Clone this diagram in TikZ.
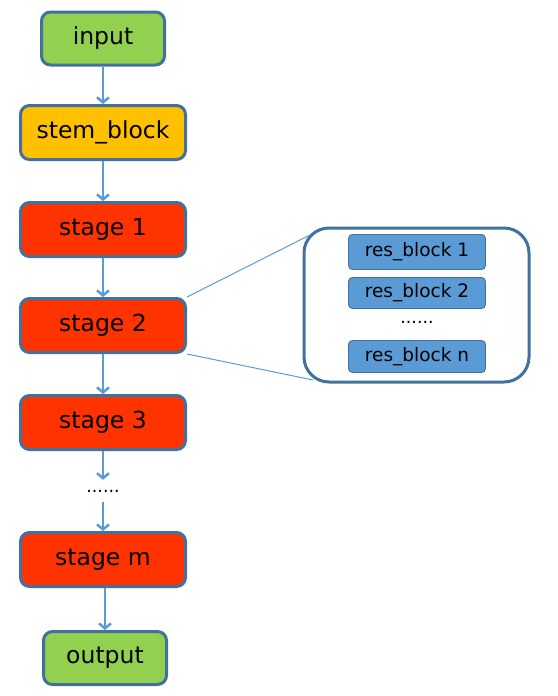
\documentclass[tikz,border=0pt]{standalone}
\usepackage{fontspec}
\setmainfont{DejaVu Sans}
\usetikzlibrary{arrows.meta}
\definecolor{boxline}{RGB}{65,113,156}
\definecolor{arrowblue}{RGB}{91,155,213}
\definecolor{iogreen}{RGB}{146,208,80}
\definecolor{stemgold}{RGB}{255,192,0}
\definecolor{stagered}{RGB}{255,51,0}
\begin{document}
\begin{tikzpicture}[x=1pt, y=-1pt,
    block/.style={draw=boxline, line width=3pt, rounded corners=9pt,
      minimum width=165pt, minimum height=54pt, inner sep=0pt,
      font=\fontsize{23.5}{27}\selectfont},
    iobox/.style={block, fill=iogreen, minimum width=123pt, minimum height=53pt},
    stagebox/.style={block, fill=stagered},
    resbox/.style={draw=boxline, line width=0.9pt, fill=arrowblue, rounded corners=4pt,
      minimum width=137pt, inner sep=0pt, font=\fontsize{18.5}{21}\selectfont},
    flow/.style={draw=arrowblue, line width=2.5pt, -{Straight Barb[length=5pt, width=12pt]}},
    dotsnode/.style={minimum height=22pt, inner sep=0pt, font=\fontsize{17.5}{20}\selectfont}]
  \useasboundingbox (0, 0) rectangle (557, 696);
  \node[iobox] (input) at (103, 38.5) {input};
  \node[block, fill=stemgold] (stem) at (103, 132.5) {stem\_block};
  \node[stagebox] (stage1) at (103, 229.5) {stage 1};
  \node[stagebox] (stage2) at (103, 325.5) {stage 2};
  \node[stagebox] (stage3) at (103, 422.5) {stage 3};
  \node[dotsnode] (stagedots) at (103, 491) {......};
  \node[stagebox] (stagem) at (103, 559.5) {stage m};
  \node[iobox] (output) at (105, 658) {output};
  \draw[flow] (input) -- (stem);
  \draw[flow] (stem) -- (stage1);
  \draw[flow] (stage1) -- (stage2);
  \draw[flow] (stage2) -- (stage3);
  \draw[flow] (stage3) -- (stagedots);
  \draw[flow] (stagedots) -- (stagem);
  \draw[flow] (stagem.south -| output.north) -- (output);
  \node[draw=boxline, line width=3pt, rounded corners=25pt, minimum width=225pt,
    minimum height=154pt] (detail) at (416.5, 305) {};
  \node[resbox, minimum height=35pt] (res1) at (417, 252) {res\_block 1};
  \node[resbox, minimum height=31pt] (res2) at (417, 293) {res\_block 2};
  \node[dotsnode] (resdots) at (417, 322) {......};
  \node[resbox, minimum height=32pt] (resn) at (417, 356.5) {res\_block n};
  \coordinate (zoomtop) at (310, 235);
  \coordinate (zoombottom) at (313, 380);
  \draw[arrowblue, line width=1pt] (stage2.north east) -- (zoomtop);
  \draw[arrowblue, line width=1pt] (stage2.south east) -- (zoombottom);
\end{tikzpicture}
\end{document}
